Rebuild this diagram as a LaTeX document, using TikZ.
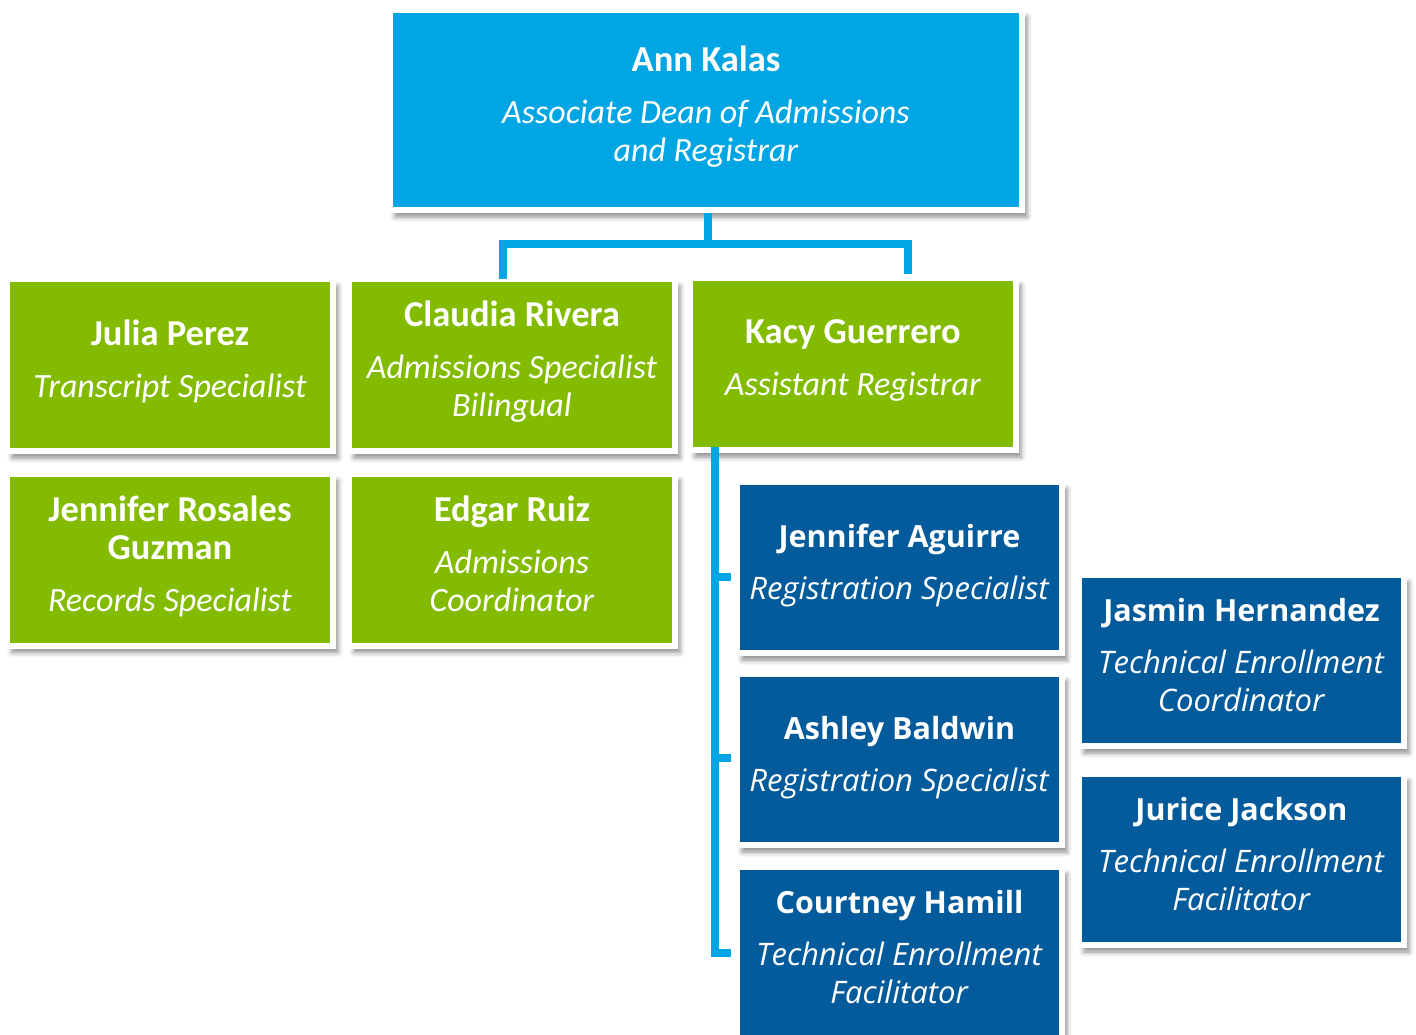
\documentclass[tikz,border=0pt]{standalone}
\usepackage{fontspec}
\setmainfont{Carlito}
\newfontfamily\bluefont{Open Sans}
\usetikzlibrary{shadows.blur}

\definecolor{topcyan}{HTML}{00A6E3}
\definecolor{leafgreen}{HTML}{82BB00}
\definecolor{deepblue}{HTML}{045B9B}

% extra depth under the last line sets the text block slightly above centre
\newcommand\lift{\rule[-12bp]{0pt}{12bp}}

\tikzset{
  card/.style={rectangle, draw=white, line width=6bp, outer sep=0pt, inner sep=0pt,
    align=center, text=white, execute at end node=\lift,
    blur shadow={shadow xshift=5bp, shadow yshift=-7bp, shadow blur radius=5bp, shadow opacity=45}},
  headcard/.style={card, fill=topcyan, minimum width=632bp, minimum height=200bp,
    font=\fontsize{34bp}{38bp}\selectfont},
  greencard/.style={card, fill=leafgreen, minimum width=326bp, minimum height=172bp,
    font=\fontsize{34bp}{38bp}\selectfont},
  bluecard/.style={card, fill=deepblue, minimum width=325bp, minimum height=171bp,
    font=\bluefont\fontsize{31bp}{38bp}\selectfont},
  conn/.style={draw=topcyan, line width=8bp},
}
% names are set a little larger than the job titles
\newcommand\who[1]{{\fontsize{36.5bp}{38bp}\selectfont\bfseries #1}}
\newcommand\bwho[1]{{\fontsize{30.5bp}{38bp}\selectfont\bfseries #1}}
\newcommand\role[1]{\textit{#1}}

\begin{document}
\begin{tikzpicture}[x=1bp, y=-1bp]
\useasboundingbox (0,0) rectangle (1416,1034);

% head of office
\node[headcard] (top) at (706,110)
  {\who{Ann Kalas}\\[14bp]\role{Associate Dean of Admissions}\\\role{and Registrar}};

% admissions and records staff
\node[greencard] (julia) at (170,365) {\who{Julia Perez}\\[14bp]\role{Transcript Specialist}};
\node[greencard] (claudia) at (512,365)
  {\who{Claudia Rivera}\\[14bp]\role{Admissions Specialist}\\\role{Bilingual}};
\node[greencard] (kacy) at (853,364) {\who{Kacy Guerrero}\\[14bp]\role{Assistant Registrar}};
\node[greencard] (rosales) at (170,559.5)
  {\who{Jennifer Rosales}\\\who{Guzman}\\[14bp]\role{Records Specialist}};
\node[greencard] (ruiz) at (512,559.5)
  {\who{Edgar Ruiz}\\[14bp]\role{Admissions}\\\role{Coordinator}};

% registration staff
\node[bluecard] (aguirre) at (899.5,567.5) {\bwho{Jennifer Aguirre}\\[14bp]\role{Registration Specialist}};
\node[bluecard] (baldwin) at (899.5,759.5) {\bwho{Ashley Baldwin}\\[14bp]\role{Registration Specialist}};
\node[bluecard] (hamill) at (899.5,952.5)
  {\bwho{Courtney Hamill}\\[14bp]\role{Technical Enrollment}\\\role{Facilitator}};
\node[bluecard] (hernandez) at (1241.5,660.5)
  {\bwho{Jasmin Hernandez}\\[14bp]\role{Technical Enrollment}\\\role{Coordinator}};
\node[bluecard] (jackson) at (1241.5,859.5)
  {\bwho{Jurice Jackson}\\[14bp]\role{Technical Enrollment}\\\role{Facilitator}};

% reporting lines from the head
\coordinate (busL) at (503,244);
\coordinate (busR) at (908,244);
\coordinate (stem) at (708,244);
\draw[conn, shorten <=3bp] (top.south -| stem) -- (stem);
\draw[conn, shorten >=4bp] (claudia.north -| busL) -- (busL) -- (busR) -- (kacy.north -| busR);
\draw[conn, shorten >=4bp] (busL) -- (claudia.north -| busL);
\draw[conn, shorten >=4bp] (busR) -- (kacy.north -| busR);

% reporting lines from the assistant registrar
\coordinate (k1) at (715,577);
\coordinate (k2) at (715,758);
\coordinate (k3) at (715,953);
\draw[conn, shorten <=-3bp] (kacy.south -| k3) -- (k3) -- ([xshift=-6bp]k3 -| hamill.west);
\draw[conn] (k1) -- ([xshift=-6bp]k1 -| aguirre.west);
\draw[conn] (k2) -- ([xshift=-6bp]k2 -| baldwin.west);
\end{tikzpicture}
\end{document}
